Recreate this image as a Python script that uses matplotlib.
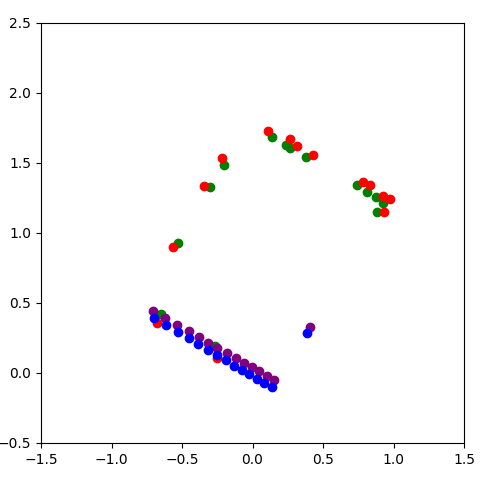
import matplotlib
matplotlib.use("Agg")
from matplotlib import pyplot as plt

# green points
green_x = [-0.526, -0.299, -0.200, 0.140, 0.235, 0.264, 0.379, 0.743, 0.814, 0.876, 0.928, 0.885, -0.651, -0.266]
green_y = [0.929, 1.326, 1.484, 1.684, 1.626, 1.609, 1.541, 1.343, 1.295, 1.255, 1.216, 1.148, 0.419, 0.193]

# red points
red_x = [-0.562, -0.342, -0.214, 0.112, 0.268, 0.318, 0.431, 0.786, 0.833, 0.928, 0.975, 0.933, -0.675, -0.254]
red_y = [0.902, 1.336, 1.536, 1.729, 1.669, 1.619, 1.557, 1.362, 1.343, 1.262, 1.241, 1.148, 0.355, 0.105]

# purple points
purple_x = [-0.708, -0.618, -0.533, -0.452, -0.382, -0.313, -0.250, -0.183, -0.119, -0.062, -0.006, 0.048, 0.101, 0.155, 0.410]
purple_y = [0.445, 0.395, 0.345, 0.300, 0.259, 0.216, 0.181, 0.145, 0.109, 0.074, 0.045, 0.014, -0.019, -0.050, 0.329]

# blue points
blue_x = [-0.696, -0.611, -0.526, -0.452, -0.384, -0.313, -0.250, -0.190, -0.133, -0.077, -0.023, 0.030, 0.084, 0.136, 0.389]
blue_y = [0.391, 0.341, 0.291, 0.248, 0.205, 0.162, 0.126, 0.091, 0.052, 0.019, -0.009, -0.041, -0.074, -0.102, 0.284]

fig = plt.figure(figsize=(4.92, 4.82), dpi=100)
ax = fig.add_axes([41 / 492, 39 / 482, 423 / 492, 420 / 482])

ax.plot(green_x, green_y, 'o', color='green')
ax.plot(red_x, red_y, 'o', color='red')
ax.plot(purple_x, purple_y, 'o', color='purple')
ax.plot(blue_x, blue_y, 'o', color='blue')

ax.set_xlim(-1.5, 1.5)
ax.set_ylim(-0.5, 2.5)

fig.savefig("out.png", dpi=100)
